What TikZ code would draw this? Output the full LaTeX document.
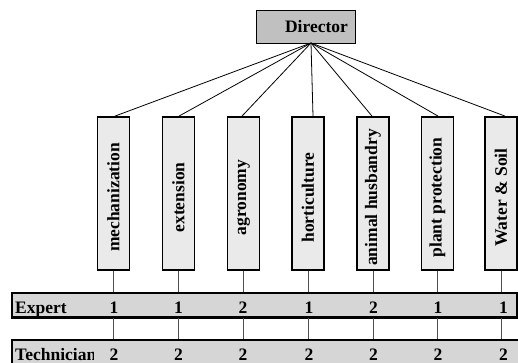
\documentclass[tikz,border=0pt]{standalone}
\usepackage{fontspec}
\setmainfont{Liberation Serif}
\definecolor{dirfill}{RGB}{192,192,192}
\definecolor{unitfill}{RGB}{234,234,234}
\definecolor{barfill}{RGB}{214,214,214}
\definecolor{linkgray}{RGB}{80,80,80}
\begin{document}
\begin{tikzpicture}[x=1pt,y=-1pt,
  lbl/.style={font=\fontsize{17.5}{20}\selectfont\bfseries, inner sep=0pt},
  dirbox/.style={draw, line width=0.9pt, fill=dirfill, minimum width=99pt, minimum height=33pt, inner sep=0pt, font=\fontsize{17.5}{20}\selectfont\bfseries},
  unitbox/.style={draw, line width=1.8pt, fill=unitfill, minimum width=32pt, minimum height=153pt, inner sep=0pt},
  barbox/.style={draw, line width=1.6pt, fill=barfill, inner sep=0pt},
  numlbl/.style={lbl, fill=barfill, anchor=base, inner xsep=1pt},
  link/.style={line width=0.8pt},
  sublink/.style={line width=0.8pt, draw=linkgray}]
\useasboundingbox (0,0) rectangle (518,363);
\fill[white] (0,0) rectangle (518,363);

% director
\node[dirbox] (dir) at (305.5,26.5) {\hspace*{22pt}Director};
\coordinate (apex) at (311,43);

% staff bars
\node[barbox, minimum width=505pt, minimum height=24pt] (expert) at (264.5,305) {};
\draw[line width=2.6pt] (expert.south west) -- (expert.south east);
\node[barbox, minimum width=520pt, minimum height=26pt] (tech) at (272,353) {};
\node[lbl, anchor=base west] (explbl) at (15,313) {Expert};
\node[lbl, anchor=base west] (techlbl) at (15,360) {Technician};

% departments: centre x / name / line end offset / experts / technicians / number x
\foreach \cx/\nm/\off/\ex/\tc/\nx [count=\i] in {
  113.5/mechanization/1.5/1/2/114,
  178.5/extension/0.5/1/2/178.5,
  243.5/agronomy/-1.5/2/2/243,
  308/horticulture/5/1/2/309,
  373/animal husbandry/-1/2/2/373.5,
  437.5/plant protection/0.5/1/2/438,
  501/Water \& Soil/4/1/2/503.5}{
  \node[unitbox] (u\i) at (\cx,193.5) {};
  \node[lbl, rotate=90] (t\i) at ([yshift=-4pt]u\i.center) {\nm};
  \draw[link] (apex) -- ([xshift=\off pt]u\i.north);
  \draw[sublink] (u\i.south) -- (u\i.south |- expert.north);
  \draw[sublink] (u\i.south |- expert.south) -- (u\i.south |- tech.north);
  \node[numlbl] (e\i) at (\nx,313) {\ex};
  \node[numlbl, minimum width=40pt] (c\i) at (\nx,360) {\tc};
}
\end{tikzpicture}
\end{document}
